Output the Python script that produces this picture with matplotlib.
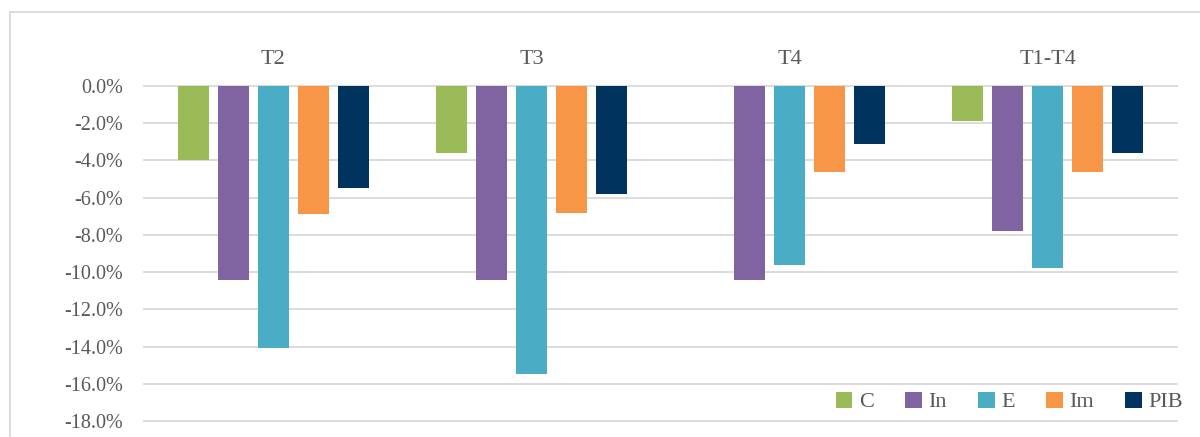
import matplotlib
matplotlib.use("Agg")
import matplotlib.pyplot as plt
import numpy as np
from matplotlib.patches import Rectangle

categories = ["T2", "T3", "T4", "T1-T4"]
series_names = ["C", "In", "E", "Im", "PIB"]
C = [-4.0, -3.6, 0.0, -1.9]
In = [-10.4, -10.4, -10.4, -7.8]
E = [-14.1, -15.5, -9.6, -9.8]
Im = [-6.9, -6.8, -4.6, -4.6]
PIB = [-5.5, -5.8, -3.1, -3.6]
yticks = [0, -2, -4, -6, -8, -10, -12, -14, -16, -18]
ytick_labels = ["0.0%", "-2.0%", "-4.0%", "-6.0%", "-8.0%", "-10.0%",
                "-12.0%", "-14.0%", "-16.0%", "-18.0%"]

colors = ["#9BBB59", "#8064A2", "#4BACC6", "#F79646", "#00345F"]
text_color = "#595959"
grid_color = "#D9D9D9"

plt.rcParams['font.family'] = ['Liberation Serif', 'DejaVu Serif']

fig = plt.figure(figsize=(12, 4.37), dpi=100)
fig.patches.append(Rectangle((10/1200, -0.2), 1.5, 1 - 12/437 + 0.2,
                             transform=fig.transFigure, fill=False,
                             edgecolor=grid_color, linewidth=1.3, zorder=0))

ax = fig.add_axes([144/1200, 1 - 421/437, (1177 - 144)/1200, (421 - 86)/437])

data = [C, In, E, Im, PIB]
x = np.arange(len(categories))
step = 0.155
width = 0.12
handles = []
for i, (vals, name, col) in enumerate(zip(data, series_names, colors)):
    offs = (i - 2) * step
    b = ax.bar(x + offs, vals, width=width, color=col, label=name, zorder=3)
    handles.append(b)

ax.set_xlim(-0.5, len(categories) - 0.5)
ax.set_ylim(-18, 0)
ax.set_yticks(yticks)
ax.set_yticklabels(ytick_labels)
for yv in yticks:
    ax.axhline(yv, color=grid_color, linewidth=1.3, zorder=1, clip_on=False)
ax.grid(False)
for s in ax.spines.values():
    s.set_visible(False)
ax.tick_params(axis='y', length=0, pad=15, labelsize=14.5, labelcolor=text_color)
ax.xaxis.tick_top()
ax.set_xticks(x)
ax.set_xticklabels(categories)
ax.tick_params(axis='x', length=0, pad=12, labelsize=16, labelcolor=text_color)

leg = ax.legend(handles=handles, labels=series_names, ncol=5, loc='center right',
                bbox_to_anchor=(1183/1200, 1 - 402/437), bbox_transform=fig.transFigure,
                frameon=False, fontsize=16, handlelength=0.75, handleheight=0.75,
                handletextpad=0.3, columnspacing=1.4, borderaxespad=0, borderpad=0)
for t in leg.get_texts():
    t.set_color(text_color)

fig.savefig("out.png", dpi=100, facecolor="white")
